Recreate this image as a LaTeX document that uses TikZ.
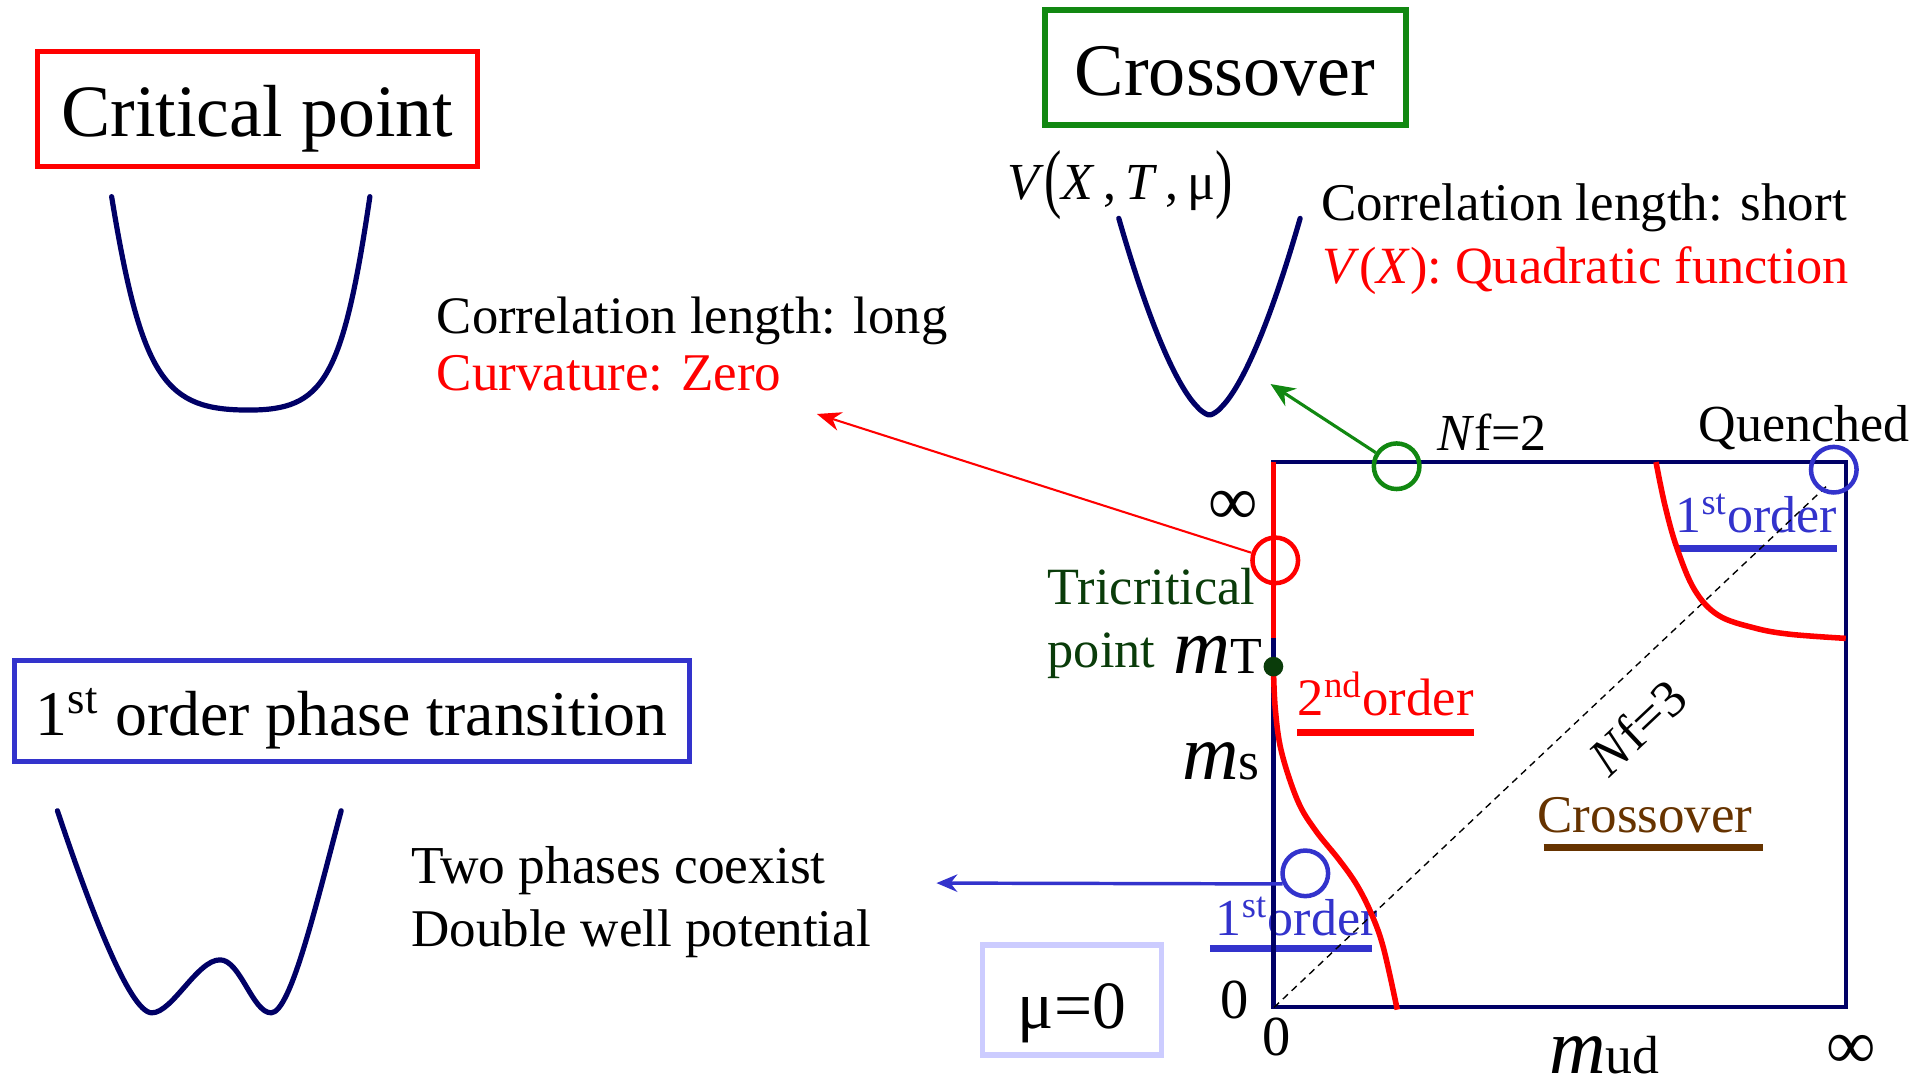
\documentclass[tikz,border=0pt]{standalone}
\usepackage{fontspec}
\usepackage{graphicx}
\setmainfont{Liberation Serif}
\usetikzlibrary{arrows.meta}
\newcommand\fsz[1]{\fontsize{#1pt}{#1pt}\selectfont}
\newcommand\tallparen[1]{\raisebox{-0.07em}{\scalebox{1}[1.47]{#1}}}
\definecolor{navy}{RGB}{0,0,102}
\definecolor{grn}{RGB}{17,136,17}
\definecolor{blu}{RGB}{51,51,204}
\definecolor{dkg}{RGB}{10,60,10}
\definecolor{brn}{RGB}{102,51,0}
\definecolor{lav}{RGB}{204,204,255}
\begin{document}
\begin{tikzpicture}[x=0.0125cm,y=-0.0125cm,
  potential/.style={draw=navy, line width=1.5pt, line join=round, line cap=round},
  boxframe/.style={draw, inner sep=0pt},
  lbl/.style={anchor=base west, inner sep=0pt, outer sep=0pt},
  ring/.style={circle, draw, line width=1.3pt, minimum size=0.4625cm, inner sep=0pt},
  uline/.style={line width=2.1pt},
  redline/.style={draw=red, line width=1.6pt},
  body/.style={lbl, font=\fsz{15.3}}]
\useasboundingbox (0,0) rectangle (1568,879);

% title boxes
\node[boxframe, draw=red, line width=1.42pt, minimum width=4.46cm, minimum height=1.1675cm,
      text height=16pt, text depth=0pt, font=\fsz{21.3}] (critbox) at (208.9,88.5) {Critical point};
\node[boxframe, draw=grn, line width=1.7pt, minimum width=3.6625cm, minimum height=1.16cm,
      text height=15.9pt, text depth=0pt, font=\fsz{21.4}] (crossbox) at (994.3,54.8) {Crossover};
\node[boxframe, draw=blu, line width=1.5pt, minimum width=6.8425cm, minimum height=1.031cm,
      text height=14pt, text depth=0pt, font=\fsz{18.4}] (firstbox) at (285.5,577) {1\textsuperscript{st} order phase transition};
\node[boxframe, draw=lav, line width=1.6pt, minimum width=1.8125cm, minimum height=1.1125cm,
      text height=16.6pt, text depth=0pt, font=\fsz{19.5}] (mubox) at (870,811.5) {μ=0};

% potentials
\draw[potential] (90.6,159.6) .. controls (115,309.6) and (135,332.8) .. (201.9,332.8)
                 .. controls (262,332.8) and (278,309.6) .. (300.2,159.6);
\draw[potential] plot[domain=-1:1, samples=80] ({981.6+73.6*\x}, {336.8-159.6*abs(\x)^1.6});
\draw[potential] (46.6,658) .. controls (71.7,733) and (105,822) .. (123.2,822)
                 .. controls (140,822) and (160,779) .. (178.6,779)
                 .. controls (195,779) and (205,822) .. (220,822)
                 .. controls (236,822) and (256.8,733) .. (276.9,658);

% text labels
\node[lbl, font=\fsz{15}] (vlabel) at (817.5,162) {\textit{V}\tallparen{(}\textit{X}\,,\,\textit{T}\,,\,μ\tallparen{)}};
\node[body] (cshort) at (1072.2,178.6) {Correlation length: short};
\node[body, font=\fsz{15.1}, text=red] (quad) at (1073,230) {\textit{V}(\textit{X}): Quadratic function};
\node[body, font=\fsz{15.2}] (clong) at (354.6,270.6) {Correlation length: long};
\node[body, text=red] (curv) at (354.6,316.6) {Curvature: Zero};
\node[body, font=\fsz{15.4}] (twoph) at (333.9,717) {Two phases coexist};
\node[body] (dwell) at (333.9,768.4) {Double well potential};
\node[lbl, font=\fsz{15}] (quen) at (1378.7,358.5) {Quenched};
\node[lbl, font=\fsz{15}] (nf2) at (1166.4,365.3) {\textit{N}f=2};
\node[lbl, font=\fsz{15.1}, text=dkg] (tric) at (850.3,490.7) {Tricritical};
\node[lbl, font=\fsz{15.1}, text=dkg] (pnt) at (850.3,542) {point};
\node[lbl, font=\fsz{15}] (mT) at (952,546.5) {{\fsz{22.8}\textit{m}}T};
\node[lbl, font=\fsz{15.5}] (ms) at (959.4,632.8) {{\fsz{22.6}\textit{m}}s};
\node[lbl, font=\fsz{15.5}] (mud) at (1257.5,871) {{\fsz{22.6}\textit{m}}ud};
\node[lbl, font=\fsz{15.2}, text=red] (second) at (1053.2,580.4) {2\textsuperscript{nd}order};
\node[lbl, font=\fsz{15}, text=blu] (firstTR) at (1359.9,432.5) {1\textsuperscript{st}order};
\node[lbl, font=\fsz{15}, text=blu] (firstBL) at (986.8,759.5) {1\textsuperscript{st}order};
\node[lbl, font=\fsz{15.3}, text=brn] (crossl) at (1247.9,675.6) {Crossover};
\node[lbl, font=\fsz{16.3}] (zeroL) at (990.7,827) {0};
\node[lbl, font=\fsz{16.3}] (zeroB) at (1024.3,857) {0};
\node[inner sep=0pt, font=\fsz{20}] (infL) at (1000.7,412) {∞};
\node[inner sep=0pt, font=\fsz{20}] (infB) at (1502.7,853.6) {∞};
\node[inner sep=0pt, rotate=43.3, font=\fsz{15.2}] (nf3) at (1329,590) {\textit{N}f=3};

% underlines
\draw[red, uline] (1053,594.5) -- (1196,594.5);
\draw[blu, uline] (1360,445) -- (1490.7,445);
\draw[blu, uline] (982,770) -- (1113.3,770);
\draw[brn, uline] (1252.7,688) -- (1430.6,688);

% phase diagram
\draw[navy, line width=1.2pt] (1033.5,375) rectangle (1498,817);
\draw[line width=0.4pt, dash pattern=on 2pt off 1.5pt] (1034,817.6) -- (1484,393);
\draw[redline] (1033.5,375) -- (1033.5,518);
\draw[redline] plot[smooth, tension=0.6] coordinates {(1033.5,541) (1035,575) (1040,610) (1053.2,649.9) (1067.6,673.9) (1086.8,697.8) (1101.3,718.4) (1113.3,742.3) (1122.9,769.7) (1134,819.4)};
\draw[redline] plot[smooth, tension=0.6] coordinates {(1344,375) (1351.3,410.3) (1360.9,444.5) (1375.3,478.7) (1394.5,499.3) (1423.4,509.5) (1452.2,514.7) (1498,518.1)};
\node[circle, fill=dkg, minimum size=0.2cm, inner sep=0pt] (tcp) at (1033.5,541) {};

% rings
\node[ring, draw=grn] (gring) at (1133.5,378.4) {};
\node[ring, draw=red] (rring) at (1035,454.8) {};
\node[ring, draw=blu] (qring) at (1488.3,381.2) {};
\node[ring, draw=blu] (bring) at (1059.4,708.8) {};

% arrows
\coordinate (gtip) at (1031.2,311.7);
\coordinate (rtip) at (663,336);
\coordinate (btip) at (760,716.7);
\draw[grn, line width=0.9pt, -{Stealth[length=7pt,width=6pt]}] (gring) -- (gtip);
\draw[red, line width=0.6pt, -{Stealth[length=7pt,width=5.5pt]}] (rring) -- (rtip);
\draw[blu, line width=1pt, -{Stealth[length=6pt,width=5pt]}] (bring.205) -- (btip);
\end{tikzpicture}
\end{document}
